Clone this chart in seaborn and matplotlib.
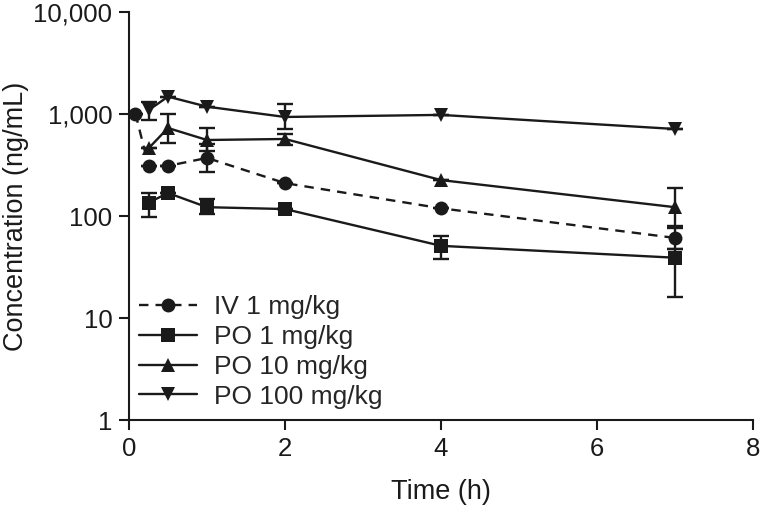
import numpy as np
import pandas as pd
import matplotlib
matplotlib.use("Agg")
import matplotlib.pyplot as plt
import seaborn as sns

# ---- data ----
groups = ["IV 1 mg/kg", "PO 1 mg/kg", "PO 10 mg/kg", "PO 100 mg/kg"]

t_iv = [0.083, 0.25, 0.5, 1, 2, 4, 7]
iv_mean = [1010, 310, 310, 371, 210, 119, 61]
iv_lo = [1010, 310, 310, 270, 210, 119, 48]
iv_hi = [1010, 310, 310, 505, 210, 119, 76]

t_po = [0.25, 0.5, 1, 2, 4, 7]
po1_mean = [135, 168, 122, 117, 51, 39]
po1_lo = [98, 168, 104, 117, 38, 16]
po1_hi = [168, 168, 146, 117, 64, 47]

po10_mean = [460, 729, 556, 569, 225, 122]
po10_lo = [460, 520, 430, 500, 225, 80]
po10_hi = [460, 1000, 729, 640, 225, 188]

po100_mean = [1090, 1480, 1180, 935, 980, 713]
po100_lo = [873, 1480, 1180, 713, 980, 713]
po100_hi = [1300, 1480, 1180, 1250, 980, 713]

y_ticks = [1, 10, 100, 1000, 10000]
y_ticklabels = ["1", "10", "100", "1,000", "10,000"]
x_ticks = [0, 2, 4, 6, 8]

# ---- build table ----
rows = []
series = [
    (groups[0], t_iv, iv_mean, iv_lo, iv_hi),
    (groups[1], t_po, po1_mean, po1_lo, po1_hi),
    (groups[2], t_po, po10_mean, po10_lo, po10_hi),
    (groups[3], t_po, po100_mean, po100_lo, po100_hi),
]
for g, tt, m, lo, hi in series:
    for a, b, c, d in zip(tt, m, lo, hi):
        rows.append({"Group": g, "Time": a, "Conc": b, "lo": c, "hi": d})
df = pd.DataFrame(rows)

sns.set_style("ticks")
plt.rcParams["font.family"] = ["Liberation Sans", "DejaVu Sans"]
plt.rcParams["axes.linewidth"] = 1.5

fig = plt.figure(figsize=(7.6, 5.08), dpi=100)
ax = fig.add_axes([129 / 760, 88 / 508, 624 / 760, 408 / 508])

# error bars
for g, tt, m, lo, hi in series:
    m = np.array(m, float)
    yerr = np.vstack([m - np.array(lo, float), np.array(hi, float) - m])
    ax.errorbar(tt, m, yerr=yerr, fmt="none", ecolor="#1a1a1a",
                elinewidth=1.7, capsize=6, capthick=1.7, zorder=2)

markers = {groups[0]: "o", groups[1]: "s", groups[2]: "^", groups[3]: "v"}
dashes = {groups[0]: (4, 3), groups[1]: "", groups[2]: "", groups[3]: ""}
palette = {g: "#1a1a1a" for g in groups}

sns.lineplot(data=df, x="Time", y="Conc", hue="Group", style="Group",
             markers=markers, dashes=dashes, palette=palette,
             hue_order=groups, style_order=groups,
             markersize=10, markeredgewidth=0, linewidth=1.7,
             ax=ax, zorder=3, legend=True)

ax.set_yscale("log")
ax.set_ylim(1, 10000)
ax.set_xlim(0, 8)
ax.set_yticks(y_ticks)
ax.set_yticklabels(y_ticklabels)
ax.yaxis.set_minor_locator(matplotlib.ticker.NullLocator())
ax.set_xticks(x_ticks)
ax.tick_params(axis="both", labelsize=18.5, length=7, width=1.5,
               pad=5, colors="#1a1a1a", labelcolor="#1a1a1a")
for s in ["top", "right"]:
    ax.spines[s].set_visible(False)
for s in ["left", "bottom"]:
    ax.spines[s].set_color("#1a1a1a")

ax.set_xlabel("Time (h)", fontsize=19.5, color="#1a1a1a", labelpad=13)
ax.set_ylabel("Concentration (ng/mL)", fontsize=19.5, color="#1a1a1a", labelpad=3)

leg = ax.legend(loc="lower left", bbox_to_anchor=(10 / 624, 0.028),
                frameon=False, fontsize=19, handlelength=2.2,
                handletextpad=0.65, labelspacing=0.22, borderpad=0,
                borderaxespad=0)
for h in leg.legend_handles:
    h.set_markersize(10)

fig.savefig("out.png", dpi=100)
